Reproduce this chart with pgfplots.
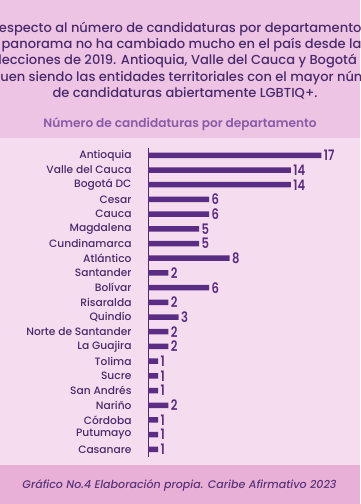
\documentclass[border=0pt]{standalone}
\usepackage{pgfplots}
\pgfplotsset{compat=1.18}
\usepackage{fontspec}
\setmainfont{Poppins}[UprightFont=* Medium, BoldFont=* SemiBold, ItalicFont=* Medium Italic, BoldItalicFont=* SemiBold Italic]
\definecolor{bgtop}{HTML}{EEC4E4}
\definecolor{bgmid}{HTML}{F5DDEF}
\definecolor{bgbot}{HTML}{E9B0D7}
\definecolor{dark}{HTML}{4A2A6B}
\definecolor{barc}{HTML}{5A2D85}
\definecolor{ttl}{HTML}{8A5BA6}
\definecolor{foot}{HTML}{5B3378}
\begin{document}
\begin{tikzpicture}[x=1bp,y=1bp]
\useasboundingbox (0,0) rectangle (360,504);
\clip (0,0) rectangle (360,504);
\fill[bgmid] (0,0) rectangle (360,504);
\fill[bgtop] (0,366) rectangle (360,504);
\fill[bgbot] (0,0) rectangle (360,39);
\begin{scope}[every node/.style={anchor=base, color=dark, font=\fontsize{13.1}{15}\selectfont, inner sep=0pt}]
\node at (185,471.5) {Respecto al número de candidaturas por departamento, el};
\node at (185,455.25) {panorama no ha cambiado mucho en el país desde las};
\node at (185,439) {elecciones de 2019. Antioquia, Valle del Cauca y Bogotá DC};
\node at (185,422.75) {siguen siendo las entidades territoriales con el mayor número};
\node at (185,406.5) {de candidaturas abiertamente LGBTIQ+.};
\end{scope}
\node[anchor=base, inner sep=0pt, color=ttl, font=\fontsize{12.2}{13}\selectfont\bfseries] at (180,376) {Número de candidaturas por departamento};
\node[anchor=base, inner sep=0pt, color=foot, font=\fontsize{11.1}{12}\selectfont\itshape] at (179.5,15) {Gráfico No.4 Elaboración propia. Caribe Afirmativo 2023};
\begin{axis}[
  at={(148bp,356bp)}, anchor=north west,
  scale only axis, width=204bp, height=308.7bp,
  xmin=0, xmax=20, ymin=-0.5, ymax=20.5, y dir=reverse,
  xbar, bar width=5.5bp,
  axis x line=none, axis y line*=left,
  y axis line style={color=dark, line width=1pt, -},
  ytick={0,...,20}, major tick length=0pt,
  yticklabels={Antioquia, Valle del Cauca, Bogotá DC, Cesar, Cauca, Magdalena, Cundinamarca, Atlántico, Santander, Bolívar, Risaralda, Quindío, Norte de Santander, La Guajira, Tolima, Sucre, San Andrés, Nariño, Córdoba, Putumayo, Casanare},
  yticklabel style={font=\fontsize{10.7}{12}\selectfont, color=dark, xshift=-13bp},
  /pgf/number format/assume math mode=true,
  nodes near coords={\scalebox{0.8}[1]{\pgfmathprintnumber{\pgfplotspointmeta}}},
  every node near coord/.append style={font=\fontsize{14.5}{14.5}\selectfont\bfseries, color=barc, anchor=west, xshift=-1bp},
  clip=false,
]
\addplot[fill=barc, draw=none] table[x=v, y=i] {
i v
0 17
1 14
2 14
3 6
4 6
5 5
6 5
7 8
8 2
9 6
10 2
11 3
12 2
13 2
14 1
15 1
16 1
17 2
18 1
19 1
20 1
};
\end{axis}
\end{tikzpicture}
\end{document}
